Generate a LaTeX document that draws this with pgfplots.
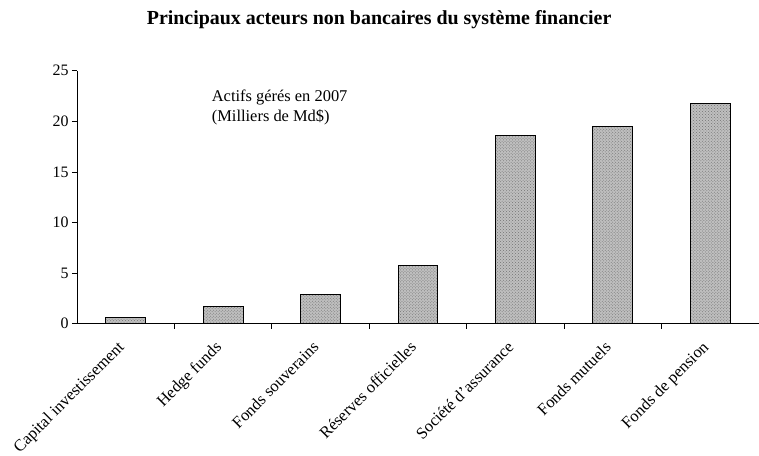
\documentclass[border=0pt]{standalone}
\usepackage{pgfplots}
\pgfplotsset{compat=1.18}
\usepackage{fontspec}
\setmainfont{Liberation Serif}
\usetikzlibrary{patterns}
\begin{document}
\begin{tikzpicture}
\begin{axis}[
  name=ax,
  scale only axis,
  width=682bp, height=253bp,
  xmin=-0.5, xmax=6.5,
  ymin=0, ymax=25,
  axis x line*=bottom,
  axis y line*=left,
  axis line style={line width=0.9pt},
  ytick={0,5,10,15,20,25},
  xtick={0,1,2,3,4,5,6},
  xticklabels={Capital investissement,Hedge funds,Fonds souverains,Réserves officielles,Société d'assurance,Fonds mutuels,Fonds de pension},
  minor xtick={0.5,1.5,2.5,3.5,4.5,5.5},
  major x tick style={draw=none},
  tick align=outside,
  major tick length=5bp,
  minor tick length=5bp,
  tick style={black, line width=0.8pt},
  /pgf/number format/assume math mode=true,
  yticklabel style={font=\fontsize{16}{18}\selectfont},
  xticklabel style={xshift=-9bp, yshift=-7bp, font=\fontsize{16.5}{19}\selectfont, rotate=45, anchor=north east, inner sep=3pt},
  title={Principaux acteurs non bancaires du système financier},
  title style={font=\bfseries\fontsize{20}{23}\selectfont, at={(rel axis cs:0.443,1)}, anchor=base, yshift=40bp},
  clip=false,
]
\addplot[ybar, bar width=0.41, draw=black, line width=1pt, fill=gray!50,
  postaction={pattern=crosshatch dots, pattern color=black!55}]
  coordinates {(0,0.6) (1,1.7) (2,2.9) (3,5.8) (4,18.6) (5,19.5) (6,21.8)};
\node[align=left, anchor=center, font=\fontsize{16.5}{20}\selectfont] at (axis cs:1.58,21.4) {Actifs gérés en 2007\\ (Milliers de Md\$)};
\end{axis}
\pgfresetboundingbox
\path[use as bounding box] ([xshift=-77bp,yshift=-131.5bp]ax.south west) rectangle ([yshift=70.7bp]ax.north east);
\end{tikzpicture}
\end{document}
